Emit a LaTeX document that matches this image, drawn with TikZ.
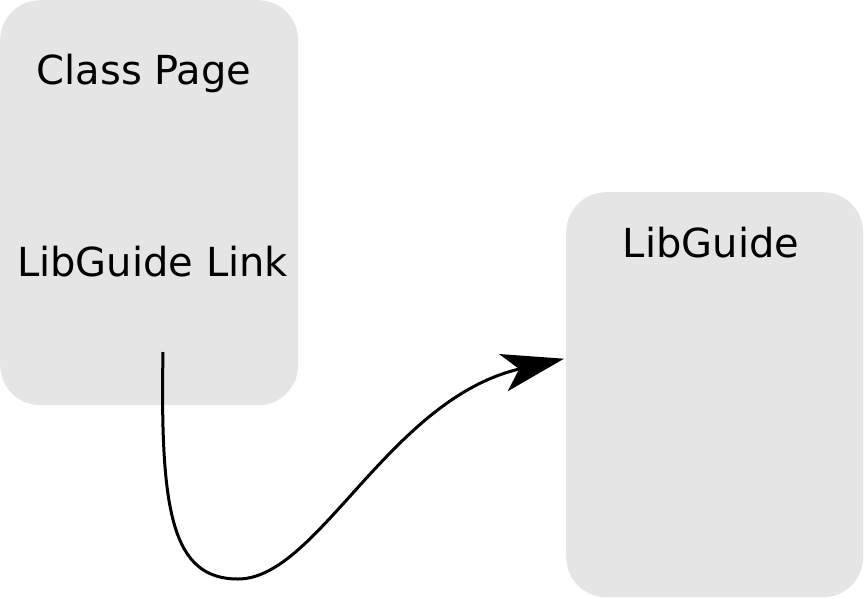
\documentclass[tikz,border=0pt]{standalone}
\usepackage{fontspec}
\setmainfont{DejaVu Sans}
\usetikzlibrary{arrows.meta}
\begin{document}
\begin{tikzpicture}[x=1pt,y=-1pt,
  card/.style={fill=black!10, rounded corners=40pt, inner sep=0pt, anchor=north west},
  label/.style={font=\fontsize{40}{48}\selectfont, anchor=base, inner sep=0pt},
  link/.style={line width=3pt, -{Stealth[length=62pt, width=38pt, inset=16pt]}}]
\useasboundingbox (0,0) rectangle (865,598);
\node[card, minimum width=298pt, minimum height=405pt] (page) at (0,0) {};
\node[card, minimum width=297pt, minimum height=405pt] (guide) at (566,192) {};
\node[label] (title) at (144,84) {Class Page};
\node[label] (lnk) at (152.5,276) {LibGuide Link};
\node[label] (gtitle) at (711,257) {LibGuide};
\coordinate (start) at (163,352);
\coordinate (tip) at ([xshift=-2pt,yshift=36pt]guide.west);
\draw[link] (start) .. controls (160,512) and (172,579) .. (238,579)
  .. controls (318,579) and (389,399) .. (tip);
\end{tikzpicture}
\end{document}
